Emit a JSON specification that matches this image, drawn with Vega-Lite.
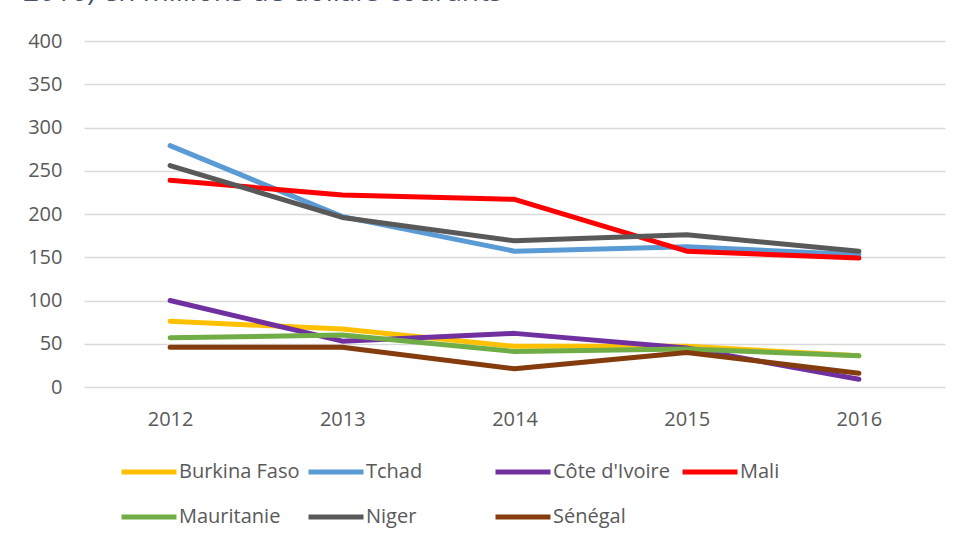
{
  "$schema": "https://vega.github.io/schema/vega-lite/v6.json",
  "width": 861,
  "height": 346,
  "autosize": {"type": "none"},
  "padding": {"left": 84, "top": 41, "right": 15, "bottom": 155},
  "background": "white",
  "title": {
    "text": "2016) en millions de dollars courants",
    "anchor": "start",
    "frame": "group",
    "orient": "top",
    "baseline": "alphabetic",
    "offset": 0,
    "dx": -61,
    "dy": -2,
    "fontSize": 28,
    "font": "Open Sans",
    "fontWeight": "normal",
    "color": "#44546A"
  },
  "config": {
    "font": "Open Sans",
    "view": {"stroke": null},
    "axis": {"labelFont": "Open Sans", "labelColor": "#595959", "labelFontSize": 20}
  },
  "data": {
    "values": [
      {"year": "2012", "pays": "Burkina Faso", "v": 76},
      {"year": "2013", "pays": "Burkina Faso", "v": 67},
      {"year": "2014", "pays": "Burkina Faso", "v": 47},
      {"year": "2015", "pays": "Burkina Faso", "v": 47},
      {"year": "2016", "pays": "Burkina Faso", "v": 36},
      {"year": "2012", "pays": "Tchad", "v": 279},
      {"year": "2013", "pays": "Tchad", "v": 197},
      {"year": "2014", "pays": "Tchad", "v": 157},
      {"year": "2015", "pays": "Tchad", "v": 162},
      {"year": "2016", "pays": "Tchad", "v": 153},
      {"year": "2012", "pays": "Côte d'Ivoire", "v": 100},
      {"year": "2013", "pays": "Côte d'Ivoire", "v": 53},
      {"year": "2014", "pays": "Côte d'Ivoire", "v": 62},
      {"year": "2015", "pays": "Côte d'Ivoire", "v": 45},
      {"year": "2016", "pays": "Côte d'Ivoire", "v": 9},
      {"year": "2012", "pays": "Mali", "v": 239},
      {"year": "2013", "pays": "Mali", "v": 222},
      {"year": "2014", "pays": "Mali", "v": 217},
      {"year": "2015", "pays": "Mali", "v": 157},
      {"year": "2016", "pays": "Mali", "v": 149},
      {"year": "2012", "pays": "Mauritanie", "v": 57},
      {"year": "2013", "pays": "Mauritanie", "v": 60},
      {"year": "2014", "pays": "Mauritanie", "v": 41},
      {"year": "2015", "pays": "Mauritanie", "v": 44},
      {"year": "2016", "pays": "Mauritanie", "v": 36},
      {"year": "2012", "pays": "Niger", "v": 256},
      {"year": "2013", "pays": "Niger", "v": 196},
      {"year": "2014", "pays": "Niger", "v": 169},
      {"year": "2015", "pays": "Niger", "v": 176},
      {"year": "2016", "pays": "Niger", "v": 157},
      {"year": "2012", "pays": "Sénégal", "v": 46},
      {"year": "2013", "pays": "Sénégal", "v": 46},
      {"year": "2014", "pays": "Sénégal", "v": 21},
      {"year": "2015", "pays": "Sénégal", "v": 40},
      {"year": "2016", "pays": "Sénégal", "v": 16}
    ]
  },
  "mark": {"type": "line", "strokeWidth": 5, "strokeCap": "round", "strokeJoin": "round"},
  "encoding": {
    "x": {
      "field": "year",
      "type": "ordinal",
      "scale": {"type": "point", "padding": 0.5},
      "axis": {"title": null, "labelAngle": 0, "ticks": false, "domain": false, "grid": false, "labelPadding": 22}
    },
    "y": {
      "field": "v",
      "type": "quantitative",
      "scale": {"domain": [0, 400], "nice": false},
      "axis": {
        "title": null,
        "values": [0, 50, 100, 150, 200, 250, 300, 350, 400],
        "ticks": false,
        "domain": false,
        "gridColor": "#D9D9D9",
        "gridWidth": 1.5,
        "labelPadding": 22
      }
    },
    "color": {
      "field": "pays",
      "type": "nominal",
      "sort": null,
      "scale": {
        "domain": ["Burkina Faso", "Tchad", "Côte d'Ivoire", "Mali", "Mauritanie", "Niger", "Sénégal"],
        "range": ["#FFC000", "#5B9BD5", "#7030A0", "#FF0000", "#70AD47", "#595959", "#843C0C"]
      },
      "legend": {
        "title": null,
        "orient": "none",
        "legendX": 35,
        "legendY": 401,
        "direction": "horizontal",
        "columns": 4,
        "gridAlign": "all",
        "symbolType": "stroke",
        "symbolSize": 3025,
        "symbolStrokeWidth": 5,
        "labelFontSize": 20,
        "labelFont": "Open Sans",
        "labelColor": "#595959",
        "labelOffset": 0,
        "columnPadding": -2,
        "rowPadding": 5,
        "labelLimit": 300
      }
    }
  }
}
